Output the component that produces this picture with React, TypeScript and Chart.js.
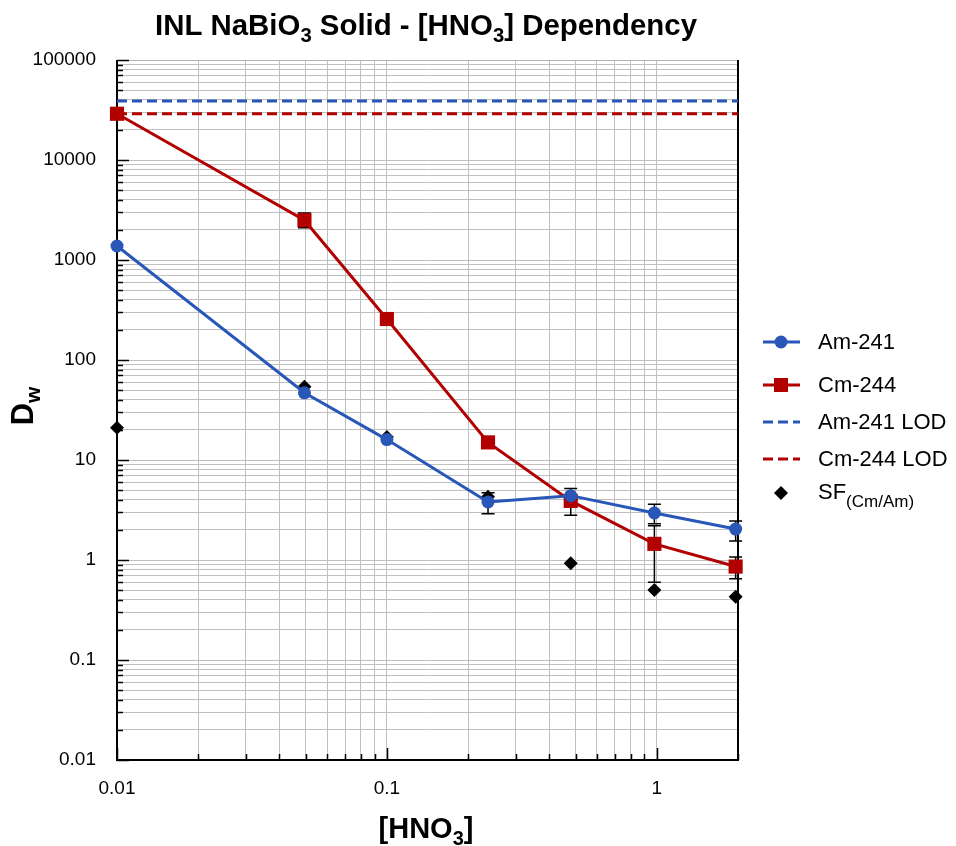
import React, { useEffect, useRef } from 'react';
import { Chart, registerables } from 'chart.js';
Chart.register(...registerables);

// ---- data ----
const hno3 = [0.01, 0.0495, 0.1, 0.237, 0.48, 0.98, 1.96];
const am241 = [1380, 47, 16, 3.8, 4.4, 2.95, 2.04];
const cm244 = [29000, 2500, 257, 15, 3.9, 1.45, 0.86];
const sfCmAm = [21, 54, 17, 4.3, 0.93, 0.5, 0.43];
const am241Low = [null, null, null, 2.9, 2.8, 2.3, 1.55];
const am241High = [null, null, null, 4.7, 5.2, 3.6, 2.45];
const cm244Low = [null, 2100, null, null, null, 0.6, 0.65];
const cm244High = [null, 2950, null, null, null, 2.2, 1.07];
const lodRange = [0.01, 2];
const am241Lod = 39000;
const cm244Lod = 29000;

const xMin = 0.01;
const xMax = 2;
const yMin = 0.01;
const yMax = 100000;
const xTickLabels = ['0.01', '0.1', '1'];
const yTickLabels = ['0.01', '0.1', '1', '10', '100', '1000', '10000', '100000'];

const BLUE = '#2857b8';
const RED = '#b20000';
const FONT = '"Liberation Sans", Arial, Helvetica, sans-serif';

function logTicks(min: number, max: number): number[] {
  const out: number[] = [];
  const e0 = Math.floor(Math.log10(min));
  const e1 = Math.ceil(Math.log10(max));
  for (let e = e0; e <= e1; e++) {
    for (let m = 1; m <= 9; m++) {
      const v = Number((m * Math.pow(10, e)).toPrecision(12));
      if (v >= min - 1e-12 && v <= max + 1e-9) out.push(v);
    }
  }
  return out;
}
const isDecade = (v: number) => Math.abs(Math.log10(v) - Math.round(Math.log10(v))) < 1e-9;

type Part = { t: string; sub?: boolean };

function richWidth(ctx: CanvasRenderingContext2D, parts: Part[], main: string, sub: string) {
  let w = 0;
  for (const p of parts) {
    ctx.font = p.sub ? sub : main;
    w += ctx.measureText(p.t).width;
  }
  return w;
}
function drawRich(
  ctx: CanvasRenderingContext2D, parts: Part[], x: number, y: number,
  main: string, sub: string, subDy: number, align: 'left' | 'center', targetW?: number
) {
  const w = richWidth(ctx, parts, main, sub);
  const sx = targetW ? targetW / w : 1;
  ctx.save();
  ctx.translate(x, y);
  ctx.scale(sx, 1);
  let cx = align === 'center' ? -w / 2 : 0;
  ctx.textAlign = 'left';
  ctx.textBaseline = 'alphabetic';
  for (const p of parts) {
    ctx.font = p.sub ? sub : main;
    ctx.fillText(p.t, cx, p.sub ? subDy : 0);
    cx += ctx.measureText(p.t).width;
  }
  ctx.restore();
}

const overlay = {
  id: 'overlay',
  beforeDatasetsDraw(chart: any) {
    const { ctx, chartArea: a, scales } = chart;
    const xs = scales.x;
    const ys = scales.y;
    ctx.save();
    // frame
    ctx.strokeStyle = '#b4b4b4';
    ctx.lineWidth = 1;
    ctx.beginPath();
    ctx.moveTo(a.left, a.top + 0.5);
    ctx.lineTo(a.right, a.top + 0.5);
    ctx.stroke();
    ctx.strokeStyle = '#000';
    ctx.lineWidth = 2;
    ctx.beginPath();
    ctx.moveTo(a.left, a.top);
    ctx.lineTo(a.left, a.bottom);
    ctx.lineTo(a.right, a.bottom);
    ctx.lineTo(a.right, a.top);
    ctx.stroke();
    // inward tick marks
    ctx.lineWidth = 1.5;
    ctx.beginPath();
    for (const v of logTicks(yMin, yMax)) {
      const py = Math.round(ys.getPixelForValue(v)) + 0.5;
      const len = isDecade(v) ? 12 : 6;
      ctx.moveTo(a.left, py);
      ctx.lineTo(a.left + len, py);
    }
    for (const v of logTicks(xMin, xMax)) {
      const px = Math.round(xs.getPixelForValue(v)) + 0.5;
      const len = isDecade(v) ? 12 : 6;
      ctx.moveTo(px, a.bottom);
      ctx.lineTo(px, a.bottom - len);
    }
    ctx.stroke();
    // error bars
    const bars = [
      [am241Low, am241High],
      [cm244Low, cm244High],
    ];
    ctx.strokeStyle = '#000';
    ctx.lineWidth = 1.5;
    for (const [lo, hi] of bars) {
      for (let i = 0; i < hno3.length; i++) {
        const l = lo[i];
        const h = hi[i];
        if (l == null || h == null) continue;
        const px = xs.getPixelForValue(hno3[i]);
        const pl = ys.getPixelForValue(l);
        const ph = ys.getPixelForValue(h);
        ctx.beginPath();
        ctx.moveTo(px, pl);
        ctx.lineTo(px, ph);
        ctx.moveTo(px - 6.5, pl);
        ctx.lineTo(px + 6.5, pl);
        ctx.moveTo(px - 6.5, ph);
        ctx.lineTo(px + 6.5, ph);
        ctx.stroke();
      }
    }
    ctx.restore();
  },
  afterDraw(chart: any) {
    const { ctx } = chart;
    ctx.save();
    ctx.fillStyle = '#000';
    // title
    drawRich(
      ctx,
      [{ t: 'INL NaBiO' }, { t: '3', sub: true }, { t: ' Solid - [HNO' }, { t: '3', sub: true }, { t: '] Dependency' }],
      426, 35, `bold 29px ${FONT}`, `bold 20px ${FONT}`, 7, 'center', 542
    );
    // x title
    drawRich(ctx, [{ t: '[HNO' }, { t: '3', sub: true }, { t: ']' }], 426, 838,
      `bold 29px ${FONT}`, `bold 20px ${FONT}`, 7, 'center', 95);
    // y title
    ctx.save();
    ctx.translate(33, 406);
    ctx.rotate(-Math.PI / 2);
    drawRich(ctx, [{ t: 'D' }, { t: 'w', sub: true }], 0, 0,
      `bold 31px ${FONT}`, `bold 21px ${FONT}`, 7, 'center');
    ctx.restore();
    // legend
    const lx0 = 763, lx1 = 800, mx = 781, tx = 818;
    const rows = [342, 385, 422, 459, 493];
    ctx.lineWidth = 3;
    // Am-241
    ctx.strokeStyle = BLUE; ctx.fillStyle = BLUE;
    ctx.beginPath(); ctx.moveTo(lx0, rows[0]); ctx.lineTo(lx1, rows[0]); ctx.stroke();
    ctx.beginPath(); ctx.arc(mx, rows[0], 6.5, 0, Math.PI * 2); ctx.fill();
    // Cm-244
    ctx.strokeStyle = RED; ctx.fillStyle = RED;
    ctx.beginPath(); ctx.moveTo(lx0, rows[1]); ctx.lineTo(lx1, rows[1]); ctx.stroke();
    ctx.fillRect(mx - 7, rows[1] - 7, 14, 14);
    // LODs
    ctx.setLineDash([10, 5]);
    ctx.strokeStyle = BLUE;
    ctx.beginPath(); ctx.moveTo(lx0, rows[2]); ctx.lineTo(lx1, rows[2]); ctx.stroke();
    ctx.strokeStyle = RED;
    ctx.beginPath(); ctx.moveTo(lx0, rows[3]); ctx.lineTo(lx1, rows[3]); ctx.stroke();
    ctx.setLineDash([]);
    // SF diamond
    ctx.fillStyle = '#000';
    ctx.beginPath();
    ctx.moveTo(mx, rows[4] - 7); ctx.lineTo(mx + 7, rows[4]); ctx.lineTo(mx, rows[4] + 7); ctx.lineTo(mx - 7, rows[4]);
    ctx.closePath(); ctx.fill();
    ctx.font = `22px ${FONT}`;
    ctx.textAlign = 'left';
    ctx.textBaseline = 'middle';
    ctx.fillText('Am-241', tx, rows[0] + 1);
    ctx.fillText('Cm-244', tx, rows[1] + 1);
    ctx.fillText('Am-241 LOD', tx, rows[2] + 1);
    ctx.fillText('Cm-244 LOD', tx, rows[3] + 1);
    drawRich(ctx, [{ t: 'SF' }, { t: '(Cm/Am)', sub: true }], tx, rows[4] + 6,
      `22px ${FONT}`, `17px ${FONT}`, 8, 'left');
    ctx.restore();
  },
};

export default function App() {
  const ref = useRef<HTMLCanvasElement>(null);
  useEffect(() => {
    const xTicks = logTicks(xMin, xMax);
    const yTicks = logTicks(yMin, yMax);
    const pts = (ys: number[]) => hno3.map((x, i) => ({ x, y: ys[i] }));
    const chart = new Chart(ref.current as HTMLCanvasElement, {
      type: 'scatter',
      data: {
        datasets: [
          {
            label: 'Am-241', data: pts(am241), showLine: true, borderColor: BLUE, backgroundColor: BLUE,
            borderWidth: 3, pointRadius: 6.5, pointStyle: 'circle', pointBorderWidth: 0, clip: false, order: 1,
          },
          {
            label: 'Cm-244', data: pts(cm244), showLine: true, borderColor: RED, backgroundColor: RED,
            borderWidth: 3, pointRadius: 10, pointStyle: 'rect', pointBorderWidth: 0, clip: false, order: 2,
          },
          {
            label: 'Am-241 LOD', data: lodRange.map((x) => ({ x, y: am241Lod })), showLine: true,
            borderColor: BLUE, borderWidth: 3, borderDash: [10, 5], pointRadius: 0, order: 3,
          },
          {
            label: 'Cm-244 LOD', data: lodRange.map((x) => ({ x, y: cm244Lod })), showLine: true,
            borderColor: RED, borderWidth: 3, borderDash: [10, 5], pointRadius: 0, order: 4,
          },
          {
            label: 'SF(Cm/Am)', data: pts(sfCmAm), showLine: false, backgroundColor: '#000', borderColor: '#000',
            pointRadius: 7, pointStyle: 'rectRot', pointBorderWidth: 0, clip: false, order: 5,
          },
        ],
      },
      options: {
        animation: false,
        responsive: false,
        devicePixelRatio: 1,
        layout: { padding: { top: 60, right: 218, left: 0, bottom: 0 } },
        plugins: { legend: { display: false }, title: { display: false }, tooltip: { enabled: false } },
        scales: {
          x: {
            type: 'logarithmic', min: xMin, max: xMax,
            afterBuildTicks: (s: any) => { s.ticks = xTicks.map((v) => ({ value: v })); },
            afterFit: (s: any) => { s.height = 86; },
            grid: { color: '#c0c0c0', lineWidth: 1, drawTicks: false },
            border: { display: false },
            ticks: {
              autoSkip: false, maxRotation: 0, padding: 17, color: '#000',
              font: { family: FONT, size: 19 },
              callback: (v: any) => { const s = xTickLabels.find((l) => Number(l) === Number(v)); return s ?? ''; },
            },
          },
          y: {
            type: 'logarithmic', min: yMin, max: yMax,
            afterBuildTicks: (s: any) => { s.ticks = yTicks.map((v) => ({ value: v })); },
            afterFit: (s: any) => { s.width = 117; },
            grid: { color: '#c0c0c0', lineWidth: 1, drawTicks: false },
            border: { display: false },
            ticks: {
              autoSkip: false, padding: 21, color: '#000',
              font: { family: FONT, size: 19 },
              callback: (v: any) => { const s = yTickLabels.find((l) => Number(l) === Number(v)); return s ?? ''; },
            },
          },
        },
      },
      plugins: [overlay],
    } as any);
    return () => chart.destroy();
  }, []);
  return (
    <div style={{ position: 'absolute', left: 0, top: 0, width: 956, height: 846, background: '#fff' }}>
      <canvas ref={ref} width={956} height={846} style={{ width: 956, height: 846, display: 'block' }} />
    </div>
  );
}
